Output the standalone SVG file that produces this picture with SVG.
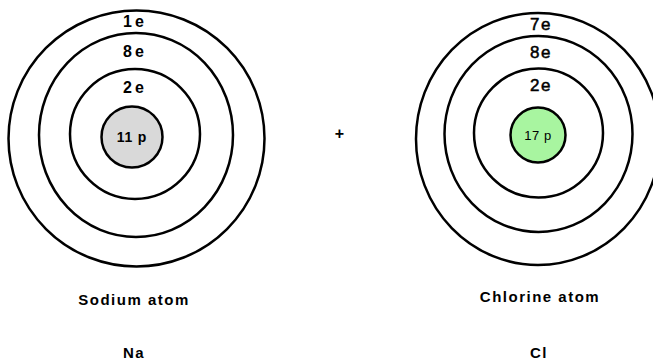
<svg xmlns="http://www.w3.org/2000/svg" width="653" height="362" viewBox="0 0 653 362">
<style>
.ring{fill:none;stroke:#000;stroke-width:2.5}
.nuc{stroke:#000;stroke-width:2.5}
.lb{font-family:"Liberation Sans",Arial,sans-serif;font-weight:bold;font-size:16px;text-anchor:middle;fill:#000;letter-spacing:3px}
.cl{font-family:"Liberation Sans",Arial,sans-serif;font-size:17px;text-anchor:middle;fill:#000;letter-spacing:1.5px;stroke:#000;stroke-width:0.5}
.np{font-family:"Liberation Sans",Arial,sans-serif;font-weight:bold;font-size:14px;text-anchor:middle;fill:#000;letter-spacing:0.8px}
.nc{font-family:"Liberation Sans",Arial,sans-serif;font-size:13px;text-anchor:middle;fill:#000;letter-spacing:0.5px}
.cap{font-family:"Liberation Sans",Arial,sans-serif;font-weight:bold;font-size:15px;text-anchor:middle;fill:#000;letter-spacing:1.5px}
</style>
<rect width="653" height="362" fill="#fff"/>
<g id="sodium">
<circle class="ring" cx="136.5" cy="138.5" r="128"/>
<ellipse class="ring" cx="136" cy="135" rx="97" ry="102"/>
<ellipse class="ring" cx="135" cy="134" rx="65" ry="65"/>
<circle class="nuc" cx="132" cy="137" r="30.5" fill="#d9d9d9"/>
<text class="lb" x="135" y="27">1e</text>
<text class="lb" x="135" y="57">8e</text>
<text class="lb" x="135" y="93">2e</text>
<text class="np" x="132" y="142">11 p</text>
</g>
<g id="plus">
<text class="lb" x="341" y="139">+</text>
</g>
<g id="chlorine">
<ellipse class="ring" cx="538" cy="139" rx="122" ry="126"/>
<ellipse class="ring" cx="538.5" cy="134" rx="94" ry="98"/>
<ellipse class="ring" cx="538.5" cy="133" rx="64.5" ry="64.5"/>
<circle class="nuc" cx="538" cy="135" r="27.5" fill="#a8f5a0"/>
<text class="cl" x="541" y="30">7e</text>
<text class="cl" x="541" y="58">8e</text>
<text class="cl" x="541" y="91">2e</text>
<text class="nc" x="538" y="140">17 p</text>
</g>
<g id="labels">
<text class="cap" x="134" y="305">Sodium atom</text>
<text class="cap" x="134" y="358">Na</text>
<text class="cap" x="540" y="302">Chlorine atom</text>
<text class="cap" x="539" y="358">Cl</text>
</g>
</svg>
